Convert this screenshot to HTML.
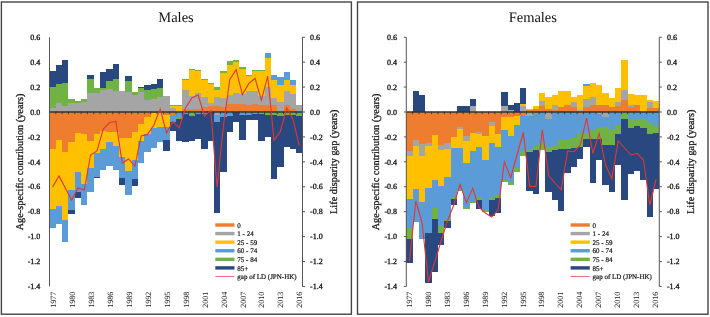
<!DOCTYPE html>
<html><head><meta charset="utf-8"><style>
html,body{margin:0;padding:0;background:#fff;}
body{width:710px;height:317px;overflow:hidden;}
svg{display:block;will-change:transform;} text{text-rendering:geometricPrecision;}
.t{font-family:"Liberation Serif",serif;font-size:8px;fill:#111;stroke:#111;stroke-width:0.3px;}
.yr{font-family:"Liberation Serif",serif;font-size:8px;fill:#1a1a1a;stroke:#1a1a1a;stroke-width:0.04px;}
.lg{font-family:"Liberation Serif",serif;font-size:7px;fill:#111;stroke:#111;stroke-width:0.2px;}
.lab{font-family:"Liberation Serif",serif;font-size:10.3px;fill:#111;stroke:#111;stroke-width:0.25px;}
.title{font-family:"Liberation Serif",serif;font-size:14.5px;fill:#111;}
</style></head><body>
<svg width="710" height="317" viewBox="0 0 710 317">
<rect width="710" height="317" fill="#fff"/>
<rect x="1.4" y="2" width="350" height="312.2" fill="none" stroke="#454545" stroke-width="1.4"/>
<rect x="357.5" y="2" width="350.5" height="312.2" fill="none" stroke="#454545" stroke-width="1.4"/>
<g shape-rendering="crispEdges">
<rect x="49.5" y="107.9" width="6.33" height="3.7" fill="#A5A5A5"/>
<rect x="49.5" y="87" width="6.33" height="20.9" fill="#71B244"/>
<rect x="49.5" y="70.8" width="6.33" height="16.2" fill="#28487F"/>
<rect x="49.5" y="111.6" width="6.33" height="36.9" fill="#EF7D2F"/>
<rect x="49.5" y="148.5" width="6.33" height="60" fill="#FFC000"/>
<rect x="49.5" y="208.5" width="6.33" height="19.3" fill="#5B9BD8"/>
<rect x="55.83" y="103.2" width="6.33" height="8.4" fill="#A5A5A5"/>
<rect x="55.83" y="84" width="6.33" height="19.2" fill="#71B244"/>
<rect x="55.83" y="64.5" width="6.33" height="19.5" fill="#28487F"/>
<rect x="55.83" y="111.6" width="6.33" height="27.9" fill="#EF7D2F"/>
<rect x="55.83" y="139.5" width="6.33" height="66.9" fill="#FFC000"/>
<rect x="55.83" y="206.4" width="6.33" height="17.2" fill="#5B9BD8"/>
<rect x="62.15" y="105.9" width="6.33" height="5.7" fill="#A5A5A5"/>
<rect x="62.15" y="82.7" width="6.33" height="23.2" fill="#71B244"/>
<rect x="62.15" y="59.5" width="6.33" height="23.2" fill="#28487F"/>
<rect x="62.15" y="111.6" width="6.33" height="39.9" fill="#EF7D2F"/>
<rect x="62.15" y="151.5" width="6.33" height="68" fill="#FFC000"/>
<rect x="62.15" y="219.5" width="6.33" height="22.5" fill="#5B9BD8"/>
<rect x="68.47" y="103.2" width="6.33" height="8.4" fill="#A5A5A5"/>
<rect x="68.47" y="98.9" width="6.33" height="4.3" fill="#71B244"/>
<rect x="68.47" y="111.6" width="6.33" height="30.4" fill="#EF7D2F"/>
<rect x="68.47" y="142" width="6.33" height="47.5" fill="#FFC000"/>
<rect x="68.47" y="189.5" width="6.33" height="20.5" fill="#5B9BD8"/>
<rect x="68.47" y="210" width="6.33" height="3.5" fill="#28487F"/>
<rect x="74.8" y="102.5" width="6.33" height="9.1" fill="#A5A5A5"/>
<rect x="74.8" y="100.9" width="6.33" height="1.6" fill="#71B244"/>
<rect x="74.8" y="111.6" width="6.33" height="21.4" fill="#EF7D2F"/>
<rect x="74.8" y="133" width="6.33" height="39" fill="#FFC000"/>
<rect x="74.8" y="172" width="6.33" height="20" fill="#5B9BD8"/>
<rect x="74.8" y="192" width="6.33" height="6" fill="#28487F"/>
<rect x="81.12" y="101.5" width="6.33" height="10.1" fill="#A5A5A5"/>
<rect x="81.12" y="98.9" width="6.33" height="2.6" fill="#71B244"/>
<rect x="81.12" y="111.6" width="6.33" height="22.4" fill="#EF7D2F"/>
<rect x="81.12" y="134" width="6.33" height="49.5" fill="#FFC000"/>
<rect x="81.12" y="183.5" width="6.33" height="21.9" fill="#5B9BD8"/>
<rect x="87.45" y="93.4" width="6.33" height="18.2" fill="#A5A5A5"/>
<rect x="87.45" y="78.9" width="6.33" height="14.5" fill="#71B244"/>
<rect x="87.45" y="74.6" width="6.33" height="4.3" fill="#28487F"/>
<rect x="87.45" y="111.6" width="6.33" height="28.9" fill="#EF7D2F"/>
<rect x="87.45" y="140.5" width="6.33" height="27.1" fill="#FFC000"/>
<rect x="87.45" y="167.6" width="6.33" height="24.7" fill="#5B9BD8"/>
<rect x="93.78" y="93.4" width="6.33" height="18.2" fill="#A5A5A5"/>
<rect x="93.78" y="88.4" width="6.33" height="5" fill="#71B244"/>
<rect x="93.78" y="111.6" width="6.33" height="22.4" fill="#EF7D2F"/>
<rect x="93.78" y="134" width="6.33" height="19.4" fill="#FFC000"/>
<rect x="93.78" y="153.4" width="6.33" height="23.6" fill="#5B9BD8"/>
<rect x="93.78" y="177" width="6.33" height="1" fill="#28487F"/>
<rect x="100.1" y="90.4" width="6.33" height="21.2" fill="#A5A5A5"/>
<rect x="100.1" y="88.4" width="6.33" height="2" fill="#71B244"/>
<rect x="100.1" y="72.2" width="6.33" height="16.2" fill="#28487F"/>
<rect x="100.1" y="111.6" width="6.33" height="18.9" fill="#EF7D2F"/>
<rect x="100.1" y="130.5" width="6.33" height="18.2" fill="#FFC000"/>
<rect x="100.1" y="148.7" width="6.33" height="21.6" fill="#5B9BD8"/>
<rect x="106.43" y="88.8" width="6.33" height="22.8" fill="#A5A5A5"/>
<rect x="106.43" y="81.3" width="6.33" height="7.5" fill="#71B244"/>
<rect x="106.43" y="69.2" width="6.33" height="12.1" fill="#28487F"/>
<rect x="106.43" y="111.6" width="6.33" height="20.6" fill="#EF7D2F"/>
<rect x="106.43" y="132.2" width="6.33" height="9.8" fill="#FFC000"/>
<rect x="106.43" y="142" width="6.33" height="24" fill="#5B9BD8"/>
<rect x="112.75" y="91.4" width="6.33" height="20.2" fill="#A5A5A5"/>
<rect x="112.75" y="79.3" width="6.33" height="12.1" fill="#71B244"/>
<rect x="112.75" y="63.7" width="6.33" height="15.6" fill="#28487F"/>
<rect x="112.75" y="111.6" width="6.33" height="20.6" fill="#EF7D2F"/>
<rect x="112.75" y="132.2" width="6.33" height="14" fill="#FFC000"/>
<rect x="112.75" y="146.2" width="6.33" height="24.1" fill="#5B9BD8"/>
<rect x="119.08" y="91.4" width="6.33" height="20.2" fill="#A5A5A5"/>
<rect x="119.08" y="111.6" width="6.33" height="25.9" fill="#EF7D2F"/>
<rect x="119.08" y="137.5" width="6.33" height="19" fill="#FFC000"/>
<rect x="119.08" y="156.5" width="6.33" height="21.8" fill="#5B9BD8"/>
<rect x="119.08" y="178.3" width="6.33" height="6.2" fill="#28487F"/>
<rect x="125.4" y="92.4" width="6.33" height="19.2" fill="#A5A5A5"/>
<rect x="125.4" y="81.3" width="6.33" height="11.1" fill="#71B244"/>
<rect x="125.4" y="75.8" width="6.33" height="5.5" fill="#28487F"/>
<rect x="125.4" y="111.6" width="6.33" height="25.9" fill="#EF7D2F"/>
<rect x="125.4" y="137.5" width="6.33" height="33" fill="#FFC000"/>
<rect x="125.4" y="170.5" width="6.33" height="24.5" fill="#5B9BD8"/>
<rect x="131.73" y="95.4" width="6.33" height="16.2" fill="#A5A5A5"/>
<rect x="131.73" y="92.4" width="6.33" height="3" fill="#71B244"/>
<rect x="131.73" y="111.6" width="6.33" height="19.9" fill="#EF7D2F"/>
<rect x="131.73" y="131.5" width="6.33" height="28.5" fill="#FFC000"/>
<rect x="131.73" y="160" width="6.33" height="18.5" fill="#5B9BD8"/>
<rect x="131.73" y="178.5" width="6.33" height="7" fill="#28487F"/>
<rect x="138.05" y="92.4" width="6.33" height="19.2" fill="#A5A5A5"/>
<rect x="138.05" y="88.4" width="6.33" height="4" fill="#71B244"/>
<rect x="138.05" y="87" width="6.33" height="1.4" fill="#28487F"/>
<rect x="138.05" y="111.6" width="6.33" height="11.9" fill="#EF7D2F"/>
<rect x="138.05" y="123.5" width="6.33" height="17.2" fill="#FFC000"/>
<rect x="138.05" y="140.7" width="6.33" height="22.1" fill="#5B9BD8"/>
<rect x="144.38" y="99.5" width="6.33" height="12.1" fill="#A5A5A5"/>
<rect x="144.38" y="90.4" width="6.33" height="9.1" fill="#71B244"/>
<rect x="144.38" y="85" width="6.33" height="5.4" fill="#28487F"/>
<rect x="144.38" y="111.6" width="6.33" height="5.4" fill="#EF7D2F"/>
<rect x="144.38" y="117" width="6.33" height="17.4" fill="#FFC000"/>
<rect x="144.38" y="134.4" width="6.33" height="17.3" fill="#5B9BD8"/>
<rect x="150.7" y="98.5" width="6.33" height="13.1" fill="#A5A5A5"/>
<rect x="150.7" y="89.4" width="6.33" height="9.1" fill="#71B244"/>
<rect x="150.7" y="84.3" width="6.33" height="5.1" fill="#28487F"/>
<rect x="150.7" y="111.6" width="6.33" height="0.9" fill="#EF7D2F"/>
<rect x="150.7" y="112.5" width="6.33" height="15.5" fill="#FFC000"/>
<rect x="150.7" y="128" width="6.33" height="20" fill="#5B9BD8"/>
<rect x="157.03" y="97.4" width="6.33" height="14.2" fill="#A5A5A5"/>
<rect x="157.03" y="88" width="6.33" height="9.4" fill="#71B244"/>
<rect x="157.03" y="78.9" width="6.33" height="9.1" fill="#28487F"/>
<rect x="157.03" y="111.6" width="6.33" height="15.4" fill="#FFC000"/>
<rect x="157.03" y="127" width="6.33" height="15.3" fill="#5B9BD8"/>
<rect x="163.35" y="96" width="6.33" height="15.6" fill="#A5A5A5"/>
<rect x="163.35" y="111.6" width="6.33" height="3.1" fill="#EF7D2F"/>
<rect x="163.35" y="114.7" width="6.33" height="12.3" fill="#FFC000"/>
<rect x="163.35" y="127" width="6.33" height="11.5" fill="#5B9BD8"/>
<rect x="163.35" y="138.5" width="6.33" height="1.5" fill="#71B244"/>
<rect x="163.35" y="140" width="6.33" height="10.8" fill="#28487F"/>
<rect x="169.68" y="108" width="6.33" height="3.6" fill="#A5A5A5"/>
<rect x="169.68" y="105.5" width="6.33" height="2.5" fill="#FFC000"/>
<rect x="169.68" y="104.6" width="6.33" height="0.9" fill="#71B244"/>
<rect x="169.68" y="111.6" width="6.33" height="3.1" fill="#EF7D2F"/>
<rect x="169.68" y="114.7" width="6.33" height="7.3" fill="#5B9BD8"/>
<rect x="169.68" y="122" width="6.33" height="8.5" fill="#28487F"/>
<rect x="176" y="105.5" width="6.33" height="6.1" fill="#FFC000"/>
<rect x="176" y="105" width="6.33" height="0.5" fill="#71B244"/>
<rect x="176" y="111.6" width="6.33" height="5.4" fill="#5B9BD8"/>
<rect x="176" y="117" width="6.33" height="1.6" fill="#71B244"/>
<rect x="176" y="118.6" width="6.33" height="22.8" fill="#28487F"/>
<rect x="182.33" y="108.5" width="6.33" height="3.1" fill="#EF7D2F"/>
<rect x="182.33" y="90" width="6.33" height="18.5" fill="#A5A5A5"/>
<rect x="182.33" y="79.7" width="6.33" height="10.3" fill="#FFC000"/>
<rect x="182.33" y="78.9" width="6.33" height="0.8" fill="#71B244"/>
<rect x="182.33" y="111.6" width="6.33" height="2.4" fill="#5B9BD8"/>
<rect x="182.33" y="114" width="6.33" height="28" fill="#28487F"/>
<rect x="188.65" y="108.5" width="6.33" height="3.1" fill="#EF7D2F"/>
<rect x="188.65" y="96.1" width="6.33" height="12.4" fill="#A5A5A5"/>
<rect x="188.65" y="69.8" width="6.33" height="26.3" fill="#FFC000"/>
<rect x="188.65" y="69.2" width="6.33" height="0.6" fill="#71B244"/>
<rect x="188.65" y="111.6" width="6.33" height="4.2" fill="#71B244"/>
<rect x="188.65" y="115.8" width="6.33" height="25.2" fill="#28487F"/>
<rect x="194.97" y="108.5" width="6.33" height="3.1" fill="#EF7D2F"/>
<rect x="194.97" y="92.7" width="6.33" height="15.8" fill="#A5A5A5"/>
<rect x="194.97" y="71.1" width="6.33" height="21.6" fill="#FFC000"/>
<rect x="194.97" y="70.2" width="6.33" height="0.9" fill="#71B244"/>
<rect x="194.97" y="111.6" width="6.33" height="2.4" fill="#5B9BD8"/>
<rect x="194.97" y="114" width="6.33" height="24.5" fill="#28487F"/>
<rect x="201.3" y="106.9" width="6.33" height="4.7" fill="#EF7D2F"/>
<rect x="201.3" y="97.2" width="6.33" height="9.7" fill="#A5A5A5"/>
<rect x="201.3" y="79.7" width="6.33" height="17.5" fill="#FFC000"/>
<rect x="201.3" y="78.9" width="6.33" height="0.8" fill="#71B244"/>
<rect x="201.3" y="111.6" width="6.33" height="2.4" fill="#5B9BD8"/>
<rect x="201.3" y="114" width="6.33" height="34.5" fill="#28487F"/>
<rect x="207.62" y="106.3" width="6.33" height="5.3" fill="#EF7D2F"/>
<rect x="207.62" y="102.5" width="6.33" height="3.8" fill="#A5A5A5"/>
<rect x="207.62" y="83.9" width="6.33" height="18.6" fill="#FFC000"/>
<rect x="207.62" y="82.9" width="6.33" height="1" fill="#71B244"/>
<rect x="207.62" y="111.6" width="6.33" height="29" fill="#28487F"/>
<rect x="213.95" y="105.5" width="6.33" height="6.1" fill="#EF7D2F"/>
<rect x="213.95" y="97.4" width="6.33" height="8.1" fill="#A5A5A5"/>
<rect x="213.95" y="90" width="6.33" height="7.4" fill="#FFC000"/>
<rect x="213.95" y="87" width="6.33" height="3" fill="#71B244"/>
<rect x="213.95" y="111.6" width="6.33" height="3.1" fill="#A5A5A5"/>
<rect x="213.95" y="114.7" width="6.33" height="7" fill="#5B9BD8"/>
<rect x="213.95" y="121.7" width="6.33" height="91.3" fill="#28487F"/>
<rect x="220.28" y="106.7" width="6.33" height="4.9" fill="#EF7D2F"/>
<rect x="220.28" y="97.6" width="6.33" height="9.1" fill="#A5A5A5"/>
<rect x="220.28" y="72.9" width="6.33" height="24.7" fill="#FFC000"/>
<rect x="220.28" y="71.1" width="6.33" height="1.8" fill="#71B244"/>
<rect x="220.28" y="111.6" width="6.33" height="4.9" fill="#5B9BD8"/>
<rect x="220.28" y="116.5" width="6.33" height="55.8" fill="#28487F"/>
<rect x="226.6" y="103.8" width="6.33" height="7.8" fill="#EF7D2F"/>
<rect x="226.6" y="94.6" width="6.33" height="9.2" fill="#A5A5A5"/>
<rect x="226.6" y="64.7" width="6.33" height="29.9" fill="#FFC000"/>
<rect x="226.6" y="60.8" width="6.33" height="3.9" fill="#71B244"/>
<rect x="226.6" y="111.6" width="6.33" height="3.9" fill="#5B9BD8"/>
<rect x="226.6" y="115.5" width="6.33" height="16" fill="#28487F"/>
<rect x="232.93" y="103.8" width="6.33" height="7.8" fill="#EF7D2F"/>
<rect x="232.93" y="93.4" width="6.33" height="10.4" fill="#A5A5A5"/>
<rect x="232.93" y="61.7" width="6.33" height="31.7" fill="#FFC000"/>
<rect x="232.93" y="59.8" width="6.33" height="1.9" fill="#71B244"/>
<rect x="232.93" y="111.6" width="6.33" height="10.4" fill="#28487F"/>
<rect x="239.25" y="103.8" width="6.33" height="7.8" fill="#EF7D2F"/>
<rect x="239.25" y="94" width="6.33" height="9.8" fill="#A5A5A5"/>
<rect x="239.25" y="69" width="6.33" height="25" fill="#FFC000"/>
<rect x="239.25" y="67.2" width="6.33" height="1.8" fill="#71B244"/>
<rect x="239.25" y="111.6" width="6.33" height="3.4" fill="#5B9BD8"/>
<rect x="239.25" y="115" width="6.33" height="25" fill="#28487F"/>
<rect x="245.58" y="105.2" width="6.33" height="6.4" fill="#EF7D2F"/>
<rect x="245.58" y="91.2" width="6.33" height="14" fill="#A5A5A5"/>
<rect x="245.58" y="76.2" width="6.33" height="15" fill="#FFC000"/>
<rect x="245.58" y="75.1" width="6.33" height="1.1" fill="#71B244"/>
<rect x="245.58" y="111.6" width="6.33" height="3.4" fill="#5B9BD8"/>
<rect x="245.58" y="115" width="6.33" height="5.2" fill="#28487F"/>
<rect x="251.9" y="104" width="6.33" height="7.6" fill="#EF7D2F"/>
<rect x="251.9" y="91.2" width="6.33" height="12.8" fill="#A5A5A5"/>
<rect x="251.9" y="70.8" width="6.33" height="20.4" fill="#FFC000"/>
<rect x="251.9" y="69.8" width="6.33" height="1" fill="#71B244"/>
<rect x="251.9" y="111.6" width="6.33" height="2.4" fill="#5B9BD8"/>
<rect x="251.9" y="114" width="6.33" height="6.2" fill="#28487F"/>
<rect x="258.23" y="105.2" width="6.33" height="6.4" fill="#EF7D2F"/>
<rect x="258.23" y="95.5" width="6.33" height="9.7" fill="#A5A5A5"/>
<rect x="258.23" y="70.8" width="6.33" height="24.7" fill="#FFC000"/>
<rect x="258.23" y="70.3" width="6.33" height="0.5" fill="#71B244"/>
<rect x="258.23" y="111.6" width="6.33" height="2.4" fill="#71B244"/>
<rect x="258.23" y="114" width="6.33" height="27.4" fill="#28487F"/>
<rect x="264.55" y="105.2" width="6.33" height="6.4" fill="#EF7D2F"/>
<rect x="264.55" y="86.9" width="6.33" height="18.3" fill="#A5A5A5"/>
<rect x="264.55" y="58" width="6.33" height="28.9" fill="#FFC000"/>
<rect x="264.55" y="52.6" width="6.33" height="5.4" fill="#5B9BD8"/>
<rect x="264.55" y="111.6" width="6.33" height="3.4" fill="#71B244"/>
<rect x="264.55" y="115" width="6.33" height="22" fill="#28487F"/>
<rect x="270.88" y="105.1" width="6.33" height="6.5" fill="#EF7D2F"/>
<rect x="270.88" y="97.7" width="6.33" height="7.4" fill="#A5A5A5"/>
<rect x="270.88" y="79.7" width="6.33" height="18" fill="#FFC000"/>
<rect x="270.88" y="74.8" width="6.33" height="4.9" fill="#5B9BD8"/>
<rect x="270.88" y="111.6" width="6.33" height="3.4" fill="#71B244"/>
<rect x="270.88" y="115" width="6.33" height="64.3" fill="#28487F"/>
<rect x="277.2" y="101.8" width="6.33" height="9.8" fill="#A5A5A5"/>
<rect x="277.2" y="84.6" width="6.33" height="17.2" fill="#FFC000"/>
<rect x="277.2" y="76.9" width="6.33" height="7.7" fill="#5B9BD8"/>
<rect x="277.2" y="111.6" width="6.33" height="4.4" fill="#71B244"/>
<rect x="277.2" y="116" width="6.33" height="50.7" fill="#28487F"/>
<rect x="283.52" y="105.1" width="6.33" height="6.5" fill="#EF7D2F"/>
<rect x="283.52" y="91.1" width="6.33" height="14" fill="#A5A5A5"/>
<rect x="283.52" y="79.7" width="6.33" height="11.4" fill="#FFC000"/>
<rect x="283.52" y="72.3" width="6.33" height="7.4" fill="#5B9BD8"/>
<rect x="283.52" y="111.6" width="6.33" height="3.4" fill="#71B244"/>
<rect x="283.52" y="115" width="6.33" height="32" fill="#28487F"/>
<rect x="289.85" y="109" width="6.33" height="2.6" fill="#EF7D2F"/>
<rect x="289.85" y="94.4" width="6.33" height="14.6" fill="#A5A5A5"/>
<rect x="289.85" y="85.4" width="6.33" height="9" fill="#FFC000"/>
<rect x="289.85" y="80.2" width="6.33" height="5.2" fill="#5B9BD8"/>
<rect x="289.85" y="111.6" width="6.33" height="2.9" fill="#71B244"/>
<rect x="289.85" y="114.5" width="6.33" height="34.6" fill="#28487F"/>
<rect x="296.18" y="105.1" width="6.33" height="6.5" fill="#A5A5A5"/>
<rect x="296.18" y="111.6" width="6.33" height="2.4" fill="#5B9BD8"/>
<rect x="296.18" y="114" width="6.33" height="2" fill="#71B244"/>
<rect x="296.18" y="116" width="6.33" height="36.5" fill="#28487F"/>
</g>
<line x1="49.5" y1="112" x2="302.5" y2="112" stroke="#333" stroke-width="1.3"/>
<line x1="55.83" y1="111.6" x2="55.83" y2="114.2" stroke="#333" stroke-width="0.9"/>
<line x1="62.15" y1="111.6" x2="62.15" y2="114.2" stroke="#333" stroke-width="0.9"/>
<line x1="68.47" y1="111.6" x2="68.47" y2="114.2" stroke="#333" stroke-width="0.9"/>
<line x1="74.8" y1="111.6" x2="74.8" y2="114.2" stroke="#333" stroke-width="0.9"/>
<line x1="81.12" y1="111.6" x2="81.12" y2="114.2" stroke="#333" stroke-width="0.9"/>
<line x1="87.45" y1="111.6" x2="87.45" y2="114.2" stroke="#333" stroke-width="0.9"/>
<line x1="93.78" y1="111.6" x2="93.78" y2="114.2" stroke="#333" stroke-width="0.9"/>
<line x1="100.1" y1="111.6" x2="100.1" y2="114.2" stroke="#333" stroke-width="0.9"/>
<line x1="106.43" y1="111.6" x2="106.43" y2="114.2" stroke="#333" stroke-width="0.9"/>
<line x1="112.75" y1="111.6" x2="112.75" y2="114.2" stroke="#333" stroke-width="0.9"/>
<line x1="119.08" y1="111.6" x2="119.08" y2="114.2" stroke="#333" stroke-width="0.9"/>
<line x1="125.4" y1="111.6" x2="125.4" y2="114.2" stroke="#333" stroke-width="0.9"/>
<line x1="131.73" y1="111.6" x2="131.73" y2="114.2" stroke="#333" stroke-width="0.9"/>
<line x1="138.05" y1="111.6" x2="138.05" y2="114.2" stroke="#333" stroke-width="0.9"/>
<line x1="144.38" y1="111.6" x2="144.38" y2="114.2" stroke="#333" stroke-width="0.9"/>
<line x1="150.7" y1="111.6" x2="150.7" y2="114.2" stroke="#333" stroke-width="0.9"/>
<line x1="157.03" y1="111.6" x2="157.03" y2="114.2" stroke="#333" stroke-width="0.9"/>
<line x1="163.35" y1="111.6" x2="163.35" y2="114.2" stroke="#333" stroke-width="0.9"/>
<line x1="169.68" y1="111.6" x2="169.68" y2="114.2" stroke="#333" stroke-width="0.9"/>
<line x1="176" y1="111.6" x2="176" y2="114.2" stroke="#333" stroke-width="0.9"/>
<line x1="182.33" y1="111.6" x2="182.33" y2="114.2" stroke="#333" stroke-width="0.9"/>
<line x1="188.65" y1="111.6" x2="188.65" y2="114.2" stroke="#333" stroke-width="0.9"/>
<line x1="194.97" y1="111.6" x2="194.97" y2="114.2" stroke="#333" stroke-width="0.9"/>
<line x1="201.3" y1="111.6" x2="201.3" y2="114.2" stroke="#333" stroke-width="0.9"/>
<line x1="207.62" y1="111.6" x2="207.62" y2="114.2" stroke="#333" stroke-width="0.9"/>
<line x1="213.95" y1="111.6" x2="213.95" y2="114.2" stroke="#333" stroke-width="0.9"/>
<line x1="220.28" y1="111.6" x2="220.28" y2="114.2" stroke="#333" stroke-width="0.9"/>
<line x1="226.6" y1="111.6" x2="226.6" y2="114.2" stroke="#333" stroke-width="0.9"/>
<line x1="232.93" y1="111.6" x2="232.93" y2="114.2" stroke="#333" stroke-width="0.9"/>
<line x1="239.25" y1="111.6" x2="239.25" y2="114.2" stroke="#333" stroke-width="0.9"/>
<line x1="245.58" y1="111.6" x2="245.58" y2="114.2" stroke="#333" stroke-width="0.9"/>
<line x1="251.9" y1="111.6" x2="251.9" y2="114.2" stroke="#333" stroke-width="0.9"/>
<line x1="258.23" y1="111.6" x2="258.23" y2="114.2" stroke="#333" stroke-width="0.9"/>
<line x1="264.55" y1="111.6" x2="264.55" y2="114.2" stroke="#333" stroke-width="0.9"/>
<line x1="270.88" y1="111.6" x2="270.88" y2="114.2" stroke="#333" stroke-width="0.9"/>
<line x1="277.2" y1="111.6" x2="277.2" y2="114.2" stroke="#333" stroke-width="0.9"/>
<line x1="283.52" y1="111.6" x2="283.52" y2="114.2" stroke="#333" stroke-width="0.9"/>
<line x1="289.85" y1="111.6" x2="289.85" y2="114.2" stroke="#333" stroke-width="0.9"/>
<line x1="296.18" y1="111.6" x2="296.18" y2="114.2" stroke="#333" stroke-width="0.9"/>
<polyline points="52.66,187 58.99,176 65.31,188 71.64,200 77.96,188 84.29,190 90.61,155 96.94,151 103.26,129 109.59,122.5 115.91,121.5 122.24,163 128.56,159 134.89,166 141.21,136 147.54,134.4 153.86,125 160.19,109 166.51,133 172.84,121.7 179.16,128 185.49,108 191.81,98 198.14,95 204.46,116 210.79,110.6 217.11,187 223.44,125.7 229.76,79.4 236.09,69.6 242.41,94.6 248.74,83.7 255.06,78.3 261.39,100.2 267.71,76.2 274.04,140.3 280.36,131.4 286.69,108 293.01,119.3 299.34,145.8" fill="none" stroke="#E6352F" stroke-width="1.1" stroke-linejoin="miter"/>
<line x1="49.5" y1="37.24" x2="49.5" y2="286.44" stroke="#555" stroke-width="1"/>
<line x1="302.5" y1="37.24" x2="302.5" y2="286.44" stroke="#555" stroke-width="1"/>
<line x1="302.5" y1="37.24" x2="305.1" y2="37.24" stroke="#555" stroke-width="1"/>
<text x="40.3" y="39.94" text-anchor="end" class="t">0.6</text>
<text x="310.1" y="39.94" class="t">0.6</text>
<line x1="302.5" y1="62.16" x2="305.1" y2="62.16" stroke="#555" stroke-width="1"/>
<text x="40.3" y="64.86" text-anchor="end" class="t">0.4</text>
<text x="310.1" y="64.86" class="t">0.4</text>
<line x1="302.5" y1="87.08" x2="305.1" y2="87.08" stroke="#555" stroke-width="1"/>
<text x="40.3" y="89.78" text-anchor="end" class="t">0.2</text>
<text x="310.1" y="89.78" class="t">0.2</text>
<line x1="302.5" y1="112" x2="305.1" y2="112" stroke="#555" stroke-width="1"/>
<text x="40.3" y="114.7" text-anchor="end" class="t">0.0</text>
<text x="310.1" y="114.7" class="t">0.0</text>
<line x1="302.5" y1="136.92" x2="305.1" y2="136.92" stroke="#555" stroke-width="1"/>
<text x="40.3" y="139.62" text-anchor="end" class="t">-0.2</text>
<text x="310.1" y="139.62" class="t">-0.2</text>
<line x1="302.5" y1="161.84" x2="305.1" y2="161.84" stroke="#555" stroke-width="1"/>
<text x="40.3" y="164.54" text-anchor="end" class="t">-0.4</text>
<text x="310.1" y="164.54" class="t">-0.4</text>
<line x1="302.5" y1="186.76" x2="305.1" y2="186.76" stroke="#555" stroke-width="1"/>
<text x="40.3" y="189.46" text-anchor="end" class="t">-0.6</text>
<text x="310.1" y="189.46" class="t">-0.6</text>
<line x1="302.5" y1="211.68" x2="305.1" y2="211.68" stroke="#555" stroke-width="1"/>
<text x="40.3" y="214.38" text-anchor="end" class="t">-0.8</text>
<text x="310.1" y="214.38" class="t">-0.8</text>
<line x1="302.5" y1="236.6" x2="305.1" y2="236.6" stroke="#555" stroke-width="1"/>
<text x="40.3" y="239.3" text-anchor="end" class="t">-1.0</text>
<text x="310.1" y="239.3" class="t">-1.0</text>
<line x1="302.5" y1="261.52" x2="305.1" y2="261.52" stroke="#555" stroke-width="1"/>
<text x="40.3" y="264.22" text-anchor="end" class="t">-1.2</text>
<text x="310.1" y="264.22" class="t">-1.2</text>
<line x1="302.5" y1="286.44" x2="305.1" y2="286.44" stroke="#555" stroke-width="1"/>
<text x="40.3" y="289.14" text-anchor="end" class="t">-1.4</text>
<text x="310.1" y="289.14" class="t">-1.4</text>
<text transform="translate(55.76,307.8) rotate(-90)" class="yr">1977</text>
<text transform="translate(74.74,307.8) rotate(-90)" class="yr">1980</text>
<text transform="translate(93.71,307.8) rotate(-90)" class="yr">1983</text>
<text transform="translate(112.69,307.8) rotate(-90)" class="yr">1986</text>
<text transform="translate(131.66,307.8) rotate(-90)" class="yr">1989</text>
<text transform="translate(150.64,307.8) rotate(-90)" class="yr">1992</text>
<text transform="translate(169.61,307.8) rotate(-90)" class="yr">1995</text>
<text transform="translate(188.59,307.8) rotate(-90)" class="yr">1998</text>
<text transform="translate(207.56,307.8) rotate(-90)" class="yr">2001</text>
<text transform="translate(226.54,307.8) rotate(-90)" class="yr">2004</text>
<text transform="translate(245.51,307.8) rotate(-90)" class="yr">2007</text>
<text transform="translate(264.49,307.8) rotate(-90)" class="yr">2010</text>
<text transform="translate(283.46,307.8) rotate(-90)" class="yr">2013</text>
<text transform="translate(302.44,307.8) rotate(-90)" class="yr">2016</text>
<text x="176" y="22" text-anchor="middle" class="title">Males</text>
<text transform="translate(22.6,162) rotate(-90)" text-anchor="middle" class="lab">Age-specific contribution (years)</text>
<text transform="translate(337,161.75) rotate(-90)" text-anchor="middle" class="lab">Life disparity gap (years)</text>
<rect x="215.3" y="223.3" width="19.2" height="3.4" fill="#EF7D2F"/>
<text x="237.3" y="227.6" class="lg">0</text>
<rect x="215.3" y="231.88" width="19.2" height="3.4" fill="#A5A5A5"/>
<text x="237.3" y="236.18" class="lg">1 - 24</text>
<rect x="215.3" y="240.46" width="19.2" height="3.4" fill="#FFC000"/>
<text x="237.3" y="244.76" class="lg">25 - 59</text>
<rect x="215.3" y="249.04" width="19.2" height="3.4" fill="#5B9BD8"/>
<text x="237.3" y="253.34" class="lg">60 - 74</text>
<rect x="215.3" y="257.62" width="19.2" height="3.4" fill="#71B244"/>
<text x="237.3" y="261.92" class="lg">75 - 84</text>
<rect x="215.3" y="266.2" width="19.2" height="3.4" fill="#28487F"/>
<text x="237.3" y="270.5" class="lg">85+</text>
<line x1="215.3" y1="276.48" x2="234.5" y2="276.48" stroke="#EC5A6A" stroke-width="0.9"/>
<text x="237.3" y="279.08" class="lg">gap of LD (JPN-HK)</text>
<g shape-rendering="crispEdges">
<rect x="406.3" y="111.6" width="6.33" height="38.9" fill="#EF7D2F"/>
<rect x="406.3" y="150.5" width="6.33" height="5.7" fill="#A5A5A5"/>
<rect x="406.3" y="156.2" width="6.33" height="42.6" fill="#FFC000"/>
<rect x="406.3" y="198.8" width="6.33" height="29.6" fill="#5B9BD8"/>
<rect x="406.3" y="228.4" width="6.33" height="10.4" fill="#71B244"/>
<rect x="406.3" y="238.8" width="6.33" height="23.8" fill="#28487F"/>
<rect x="412.62" y="91.4" width="6.33" height="20.2" fill="#28487F"/>
<rect x="412.62" y="111.6" width="6.33" height="28.4" fill="#EF7D2F"/>
<rect x="412.62" y="140" width="6.33" height="5.8" fill="#A5A5A5"/>
<rect x="412.62" y="145.8" width="6.33" height="43.6" fill="#FFC000"/>
<rect x="412.62" y="189.4" width="6.33" height="32.3" fill="#5B9BD8"/>
<rect x="418.95" y="95.3" width="6.33" height="16.3" fill="#28487F"/>
<rect x="418.95" y="111.6" width="6.33" height="31.9" fill="#EF7D2F"/>
<rect x="418.95" y="143.5" width="6.33" height="12.7" fill="#A5A5A5"/>
<rect x="418.95" y="156.2" width="6.33" height="45.5" fill="#FFC000"/>
<rect x="418.95" y="201.7" width="6.33" height="37.7" fill="#5B9BD8"/>
<rect x="425.28" y="111.6" width="6.33" height="31.4" fill="#EF7D2F"/>
<rect x="425.28" y="143" width="6.33" height="2.8" fill="#A5A5A5"/>
<rect x="425.28" y="145.8" width="6.33" height="42.6" fill="#FFC000"/>
<rect x="425.28" y="188.4" width="6.33" height="44.3" fill="#5B9BD8"/>
<rect x="425.28" y="232.7" width="6.33" height="50.7" fill="#28487F"/>
<rect x="431.6" y="111.6" width="6.33" height="23.8" fill="#EF7D2F"/>
<rect x="431.6" y="135.4" width="6.33" height="44.6" fill="#FFC000"/>
<rect x="431.6" y="180" width="6.33" height="28.3" fill="#5B9BD8"/>
<rect x="431.6" y="208.3" width="6.33" height="10.4" fill="#71B244"/>
<rect x="431.6" y="218.7" width="6.33" height="53.3" fill="#28487F"/>
<rect x="437.93" y="111.6" width="6.33" height="33.2" fill="#EF7D2F"/>
<rect x="437.93" y="144.8" width="6.33" height="4.8" fill="#A5A5A5"/>
<rect x="437.93" y="149.6" width="6.33" height="36" fill="#FFC000"/>
<rect x="437.93" y="185.6" width="6.33" height="40.8" fill="#5B9BD8"/>
<rect x="437.93" y="226.4" width="6.33" height="6.3" fill="#71B244"/>
<rect x="437.93" y="232.7" width="6.33" height="12.7" fill="#28487F"/>
<rect x="444.25" y="111.6" width="6.33" height="31.2" fill="#EF7D2F"/>
<rect x="444.25" y="142.8" width="6.33" height="5.7" fill="#A5A5A5"/>
<rect x="444.25" y="148.5" width="6.33" height="28.5" fill="#FFC000"/>
<rect x="444.25" y="177" width="6.33" height="41.7" fill="#5B9BD8"/>
<rect x="444.25" y="218.7" width="6.33" height="2.3" fill="#71B244"/>
<rect x="444.25" y="221" width="6.33" height="6.5" fill="#28487F"/>
<rect x="450.57" y="111.6" width="6.33" height="25.4" fill="#EF7D2F"/>
<rect x="450.57" y="137" width="6.33" height="10.5" fill="#FFC000"/>
<rect x="450.57" y="147.5" width="6.33" height="49.5" fill="#5B9BD8"/>
<rect x="450.57" y="197" width="6.33" height="1.8" fill="#71B244"/>
<rect x="450.57" y="198.8" width="6.33" height="5.7" fill="#28487F"/>
<rect x="456.9" y="105.6" width="6.33" height="6" fill="#28487F"/>
<rect x="456.9" y="111.6" width="6.33" height="15.6" fill="#EF7D2F"/>
<rect x="456.9" y="127.2" width="6.33" height="1.9" fill="#A5A5A5"/>
<rect x="456.9" y="129.1" width="6.33" height="18.4" fill="#FFC000"/>
<rect x="456.9" y="147.5" width="6.33" height="42.8" fill="#5B9BD8"/>
<rect x="456.9" y="190.3" width="6.33" height="1" fill="#71B244"/>
<rect x="463.23" y="105.6" width="6.33" height="6" fill="#28487F"/>
<rect x="463.23" y="111.6" width="6.33" height="24.5" fill="#EF7D2F"/>
<rect x="463.23" y="136.1" width="6.33" height="4.4" fill="#A5A5A5"/>
<rect x="463.23" y="140.5" width="6.33" height="22.2" fill="#FFC000"/>
<rect x="463.23" y="162.7" width="6.33" height="44.6" fill="#5B9BD8"/>
<rect x="463.23" y="207.3" width="6.33" height="1.6" fill="#71B244"/>
<rect x="469.55" y="106.3" width="6.33" height="5.3" fill="#A5A5A5"/>
<rect x="469.55" y="98.5" width="6.33" height="7.8" fill="#28487F"/>
<rect x="469.55" y="111.6" width="6.33" height="20.9" fill="#EF7D2F"/>
<rect x="469.55" y="132.5" width="6.33" height="18" fill="#FFC000"/>
<rect x="469.55" y="150.5" width="6.33" height="51.5" fill="#5B9BD8"/>
<rect x="469.55" y="202" width="6.33" height="1.2" fill="#71B244"/>
<rect x="475.88" y="111.6" width="6.33" height="20.5" fill="#EF7D2F"/>
<rect x="475.88" y="132.1" width="6.33" height="2.3" fill="#A5A5A5"/>
<rect x="475.88" y="134.4" width="6.33" height="12.3" fill="#FFC000"/>
<rect x="475.88" y="146.7" width="6.33" height="49.8" fill="#5B9BD8"/>
<rect x="475.88" y="196.5" width="6.33" height="3.3" fill="#71B244"/>
<rect x="475.88" y="199.8" width="6.33" height="8.8" fill="#28487F"/>
<rect x="482.2" y="111.6" width="6.33" height="24.7" fill="#EF7D2F"/>
<rect x="482.2" y="136.3" width="6.33" height="23.7" fill="#FFC000"/>
<rect x="482.2" y="160" width="6.33" height="49.7" fill="#5B9BD8"/>
<rect x="482.2" y="209.7" width="6.33" height="2.3" fill="#71B244"/>
<rect x="488.53" y="111.6" width="6.33" height="10.5" fill="#EF7D2F"/>
<rect x="488.53" y="122.1" width="6.33" height="3.8" fill="#A5A5A5"/>
<rect x="488.53" y="125.9" width="6.33" height="17.1" fill="#FFC000"/>
<rect x="488.53" y="143" width="6.33" height="54.6" fill="#5B9BD8"/>
<rect x="488.53" y="197.6" width="6.33" height="2.2" fill="#71B244"/>
<rect x="488.53" y="199.8" width="6.33" height="16.6" fill="#28487F"/>
<rect x="494.85" y="111.6" width="6.33" height="21.9" fill="#EF7D2F"/>
<rect x="494.85" y="133.5" width="6.33" height="13.2" fill="#FFC000"/>
<rect x="494.85" y="146.7" width="6.33" height="48.7" fill="#5B9BD8"/>
<rect x="494.85" y="195.4" width="6.33" height="2.6" fill="#71B244"/>
<rect x="494.85" y="198" width="6.33" height="15" fill="#28487F"/>
<rect x="501.18" y="106.3" width="6.33" height="5.3" fill="#A5A5A5"/>
<rect x="501.18" y="92.3" width="6.33" height="14" fill="#28487F"/>
<rect x="501.18" y="111.6" width="6.33" height="5.8" fill="#EF7D2F"/>
<rect x="501.18" y="117.4" width="6.33" height="12.3" fill="#FFC000"/>
<rect x="501.18" y="129.7" width="6.33" height="50.3" fill="#5B9BD8"/>
<rect x="501.18" y="180" width="6.33" height="1.7" fill="#71B244"/>
<rect x="507.5" y="109.5" width="6.33" height="2.1" fill="#A5A5A5"/>
<rect x="507.5" y="105" width="6.33" height="4.5" fill="#28487F"/>
<rect x="507.5" y="111.6" width="6.33" height="5.8" fill="#EF7D2F"/>
<rect x="507.5" y="117.4" width="6.33" height="18.9" fill="#FFC000"/>
<rect x="507.5" y="136.3" width="6.33" height="45.7" fill="#5B9BD8"/>
<rect x="507.5" y="182" width="6.33" height="3.4" fill="#71B244"/>
<rect x="513.83" y="103" width="6.33" height="8.6" fill="#28487F"/>
<rect x="513.83" y="111.6" width="6.33" height="4.8" fill="#EF7D2F"/>
<rect x="513.83" y="116.4" width="6.33" height="8.6" fill="#FFC000"/>
<rect x="513.83" y="125" width="6.33" height="42.7" fill="#5B9BD8"/>
<rect x="513.83" y="167.7" width="6.33" height="4.3" fill="#71B244"/>
<rect x="520.15" y="105.6" width="6.33" height="6" fill="#A5A5A5"/>
<rect x="520.15" y="104" width="6.33" height="1.6" fill="#FFC000"/>
<rect x="520.15" y="87.7" width="6.33" height="16.3" fill="#28487F"/>
<rect x="520.15" y="111.6" width="6.33" height="3.9" fill="#EF7D2F"/>
<rect x="520.15" y="115.5" width="6.33" height="35" fill="#5B9BD8"/>
<rect x="520.15" y="150.5" width="6.33" height="5" fill="#71B244"/>
<rect x="526.48" y="110" width="6.33" height="1.6" fill="#EF7D2F"/>
<rect x="526.48" y="108.6" width="6.33" height="1.4" fill="#FFC000"/>
<rect x="526.48" y="111.6" width="6.33" height="3.9" fill="#A5A5A5"/>
<rect x="526.48" y="115.5" width="6.33" height="34.1" fill="#5B9BD8"/>
<rect x="526.48" y="149.6" width="6.33" height="2.4" fill="#71B244"/>
<rect x="526.48" y="152" width="6.33" height="38.9" fill="#28487F"/>
<rect x="532.8" y="109" width="6.33" height="2.6" fill="#EF7D2F"/>
<rect x="532.8" y="106.3" width="6.33" height="2.7" fill="#FFC000"/>
<rect x="532.8" y="111.6" width="6.33" height="2.4" fill="#EF7D2F"/>
<rect x="532.8" y="114" width="6.33" height="31.5" fill="#5B9BD8"/>
<rect x="532.8" y="145.5" width="6.33" height="4.7" fill="#71B244"/>
<rect x="532.8" y="150.2" width="6.33" height="44" fill="#28487F"/>
<rect x="539.12" y="106.3" width="6.33" height="5.3" fill="#EF7D2F"/>
<rect x="539.12" y="101" width="6.33" height="5.3" fill="#A5A5A5"/>
<rect x="539.12" y="93" width="6.33" height="8" fill="#FFC000"/>
<rect x="539.12" y="111.6" width="6.33" height="31.4" fill="#5B9BD8"/>
<rect x="539.12" y="143" width="6.33" height="6.6" fill="#71B244"/>
<rect x="545.45" y="108.6" width="6.33" height="3" fill="#EF7D2F"/>
<rect x="545.45" y="97.1" width="6.33" height="11.5" fill="#FFC000"/>
<rect x="545.45" y="111.6" width="6.33" height="7.7" fill="#A5A5A5"/>
<rect x="545.45" y="119.3" width="6.33" height="27.6" fill="#5B9BD8"/>
<rect x="545.45" y="146.9" width="6.33" height="5.5" fill="#71B244"/>
<rect x="545.45" y="152.4" width="6.33" height="39.6" fill="#28487F"/>
<rect x="551.77" y="109.5" width="6.33" height="2.1" fill="#EF7D2F"/>
<rect x="551.77" y="105" width="6.33" height="4.5" fill="#A5A5A5"/>
<rect x="551.77" y="95" width="6.33" height="10" fill="#FFC000"/>
<rect x="551.77" y="111.6" width="6.33" height="33.1" fill="#5B9BD8"/>
<rect x="551.77" y="144.7" width="6.33" height="5.3" fill="#71B244"/>
<rect x="551.77" y="150" width="6.33" height="49.8" fill="#28487F"/>
<rect x="558.1" y="106.8" width="6.33" height="4.8" fill="#EF7D2F"/>
<rect x="558.1" y="91.4" width="6.33" height="15.4" fill="#FFC000"/>
<rect x="558.1" y="111.6" width="6.33" height="28.6" fill="#5B9BD8"/>
<rect x="558.1" y="140.2" width="6.33" height="8.8" fill="#71B244"/>
<rect x="558.1" y="149" width="6.33" height="62.3" fill="#28487F"/>
<rect x="564.42" y="105" width="6.33" height="6.6" fill="#EF7D2F"/>
<rect x="564.42" y="91.4" width="6.33" height="13.6" fill="#FFC000"/>
<rect x="564.42" y="111.6" width="6.33" height="27.5" fill="#5B9BD8"/>
<rect x="564.42" y="139.1" width="6.33" height="9.9" fill="#71B244"/>
<rect x="564.42" y="149" width="6.33" height="24.3" fill="#28487F"/>
<rect x="570.75" y="106.8" width="6.33" height="4.8" fill="#EF7D2F"/>
<rect x="570.75" y="102.4" width="6.33" height="4.4" fill="#A5A5A5"/>
<rect x="570.75" y="97.1" width="6.33" height="5.3" fill="#FFC000"/>
<rect x="570.75" y="111.6" width="6.33" height="26.4" fill="#5B9BD8"/>
<rect x="570.75" y="138" width="6.33" height="10" fill="#71B244"/>
<rect x="570.75" y="148" width="6.33" height="18.6" fill="#28487F"/>
<rect x="577.08" y="109.5" width="6.33" height="2.1" fill="#A5A5A5"/>
<rect x="577.08" y="95.3" width="6.33" height="14.2" fill="#FFC000"/>
<rect x="577.08" y="111.6" width="6.33" height="2.4" fill="#EF7D2F"/>
<rect x="577.08" y="114" width="6.33" height="20" fill="#5B9BD8"/>
<rect x="577.08" y="134" width="6.33" height="12.9" fill="#71B244"/>
<rect x="577.08" y="146.9" width="6.33" height="12.1" fill="#28487F"/>
<rect x="583.4" y="106.8" width="6.33" height="4.8" fill="#EF7D2F"/>
<rect x="583.4" y="98.9" width="6.33" height="7.9" fill="#A5A5A5"/>
<rect x="583.4" y="85.6" width="6.33" height="13.3" fill="#FFC000"/>
<rect x="583.4" y="84.4" width="6.33" height="1.2" fill="#5B9BD8"/>
<rect x="583.4" y="111.6" width="6.33" height="21.4" fill="#5B9BD8"/>
<rect x="583.4" y="133" width="6.33" height="6" fill="#71B244"/>
<rect x="583.4" y="139" width="6.33" height="7.9" fill="#28487F"/>
<rect x="589.73" y="104.6" width="6.33" height="7" fill="#EF7D2F"/>
<rect x="589.73" y="96.9" width="6.33" height="7.7" fill="#A5A5A5"/>
<rect x="589.73" y="83.3" width="6.33" height="13.6" fill="#FFC000"/>
<rect x="589.73" y="111.6" width="6.33" height="18.7" fill="#5B9BD8"/>
<rect x="589.73" y="130.3" width="6.33" height="8.5" fill="#71B244"/>
<rect x="589.73" y="138.8" width="6.33" height="44.3" fill="#28487F"/>
<rect x="596.05" y="105.2" width="6.33" height="6.4" fill="#EF7D2F"/>
<rect x="596.05" y="85" width="6.33" height="20.2" fill="#FFC000"/>
<rect x="596.05" y="111.6" width="6.33" height="1.9" fill="#A5A5A5"/>
<rect x="596.05" y="113.5" width="6.33" height="14" fill="#5B9BD8"/>
<rect x="596.05" y="127.5" width="6.33" height="11.3" fill="#71B244"/>
<rect x="596.05" y="138.8" width="6.33" height="21.2" fill="#28487F"/>
<rect x="602.38" y="104.6" width="6.33" height="7" fill="#EF7D2F"/>
<rect x="602.38" y="93.1" width="6.33" height="11.5" fill="#FFC000"/>
<rect x="602.38" y="111.6" width="6.33" height="5.4" fill="#A5A5A5"/>
<rect x="602.38" y="117" width="6.33" height="10" fill="#5B9BD8"/>
<rect x="602.38" y="127" width="6.33" height="17.7" fill="#71B244"/>
<rect x="602.38" y="144.7" width="6.33" height="40.7" fill="#28487F"/>
<rect x="608.7" y="107.3" width="6.33" height="4.3" fill="#EF7D2F"/>
<rect x="608.7" y="98.3" width="6.33" height="9" fill="#FFC000"/>
<rect x="608.7" y="111.6" width="6.33" height="17.6" fill="#5B9BD8"/>
<rect x="608.7" y="129.2" width="6.33" height="15.5" fill="#71B244"/>
<rect x="608.7" y="144.7" width="6.33" height="47.3" fill="#28487F"/>
<rect x="615.02" y="106" width="6.33" height="5.6" fill="#EF7D2F"/>
<rect x="615.02" y="102" width="6.33" height="4" fill="#A5A5A5"/>
<rect x="615.02" y="88.1" width="6.33" height="13.9" fill="#FFC000"/>
<rect x="615.02" y="111.6" width="6.33" height="13.2" fill="#5B9BD8"/>
<rect x="615.02" y="124.8" width="6.33" height="8.8" fill="#71B244"/>
<rect x="615.02" y="133.6" width="6.33" height="31.4" fill="#28487F"/>
<rect x="621.35" y="100" width="6.33" height="11.6" fill="#EF7D2F"/>
<rect x="621.35" y="90" width="6.33" height="10" fill="#A5A5A5"/>
<rect x="621.35" y="60.4" width="6.33" height="29.6" fill="#FFC000"/>
<rect x="621.35" y="111.6" width="6.33" height="7.6" fill="#71B244"/>
<rect x="621.35" y="119.2" width="6.33" height="80.5" fill="#28487F"/>
<rect x="627.67" y="106.7" width="6.33" height="4.9" fill="#EF7D2F"/>
<rect x="627.67" y="104.6" width="6.33" height="2.1" fill="#A5A5A5"/>
<rect x="627.67" y="94.4" width="6.33" height="10.2" fill="#FFC000"/>
<rect x="627.67" y="111.6" width="6.33" height="7.6" fill="#5B9BD8"/>
<rect x="627.67" y="119.2" width="6.33" height="8.8" fill="#71B244"/>
<rect x="627.67" y="128" width="6.33" height="46.3" fill="#28487F"/>
<rect x="634" y="104.6" width="6.33" height="7" fill="#EF7D2F"/>
<rect x="634" y="95.4" width="6.33" height="9.2" fill="#FFC000"/>
<rect x="634" y="111.6" width="6.33" height="7.6" fill="#5B9BD8"/>
<rect x="634" y="119.2" width="6.33" height="6.7" fill="#71B244"/>
<rect x="634" y="125.9" width="6.33" height="45.1" fill="#28487F"/>
<rect x="640.33" y="95.4" width="6.33" height="16.2" fill="#FFC000"/>
<rect x="640.33" y="111.6" width="6.33" height="7.6" fill="#5B9BD8"/>
<rect x="640.33" y="119.2" width="6.33" height="8.8" fill="#71B244"/>
<rect x="640.33" y="128" width="6.33" height="51.9" fill="#28487F"/>
<rect x="646.65" y="108.3" width="6.33" height="3.3" fill="#EF7D2F"/>
<rect x="646.65" y="101.7" width="6.33" height="6.6" fill="#A5A5A5"/>
<rect x="646.65" y="100" width="6.33" height="1.7" fill="#FFC000"/>
<rect x="646.65" y="111.6" width="6.33" height="10.9" fill="#5B9BD8"/>
<rect x="646.65" y="122.5" width="6.33" height="11.1" fill="#71B244"/>
<rect x="646.65" y="133.6" width="6.33" height="83.8" fill="#28487F"/>
<rect x="652.98" y="108.3" width="6.33" height="3.3" fill="#EF7D2F"/>
<rect x="652.98" y="101" width="6.33" height="7.3" fill="#FFC000"/>
<rect x="652.98" y="111.6" width="6.33" height="14.3" fill="#5B9BD8"/>
<rect x="652.98" y="125.9" width="6.33" height="6.6" fill="#71B244"/>
<rect x="652.98" y="132.5" width="6.33" height="56.2" fill="#28487F"/>
</g>
<line x1="406.3" y1="112" x2="659.3" y2="112" stroke="#333" stroke-width="1.3"/>
<line x1="412.62" y1="111.6" x2="412.62" y2="114.2" stroke="#333" stroke-width="0.9"/>
<line x1="418.95" y1="111.6" x2="418.95" y2="114.2" stroke="#333" stroke-width="0.9"/>
<line x1="425.28" y1="111.6" x2="425.28" y2="114.2" stroke="#333" stroke-width="0.9"/>
<line x1="431.6" y1="111.6" x2="431.6" y2="114.2" stroke="#333" stroke-width="0.9"/>
<line x1="437.93" y1="111.6" x2="437.93" y2="114.2" stroke="#333" stroke-width="0.9"/>
<line x1="444.25" y1="111.6" x2="444.25" y2="114.2" stroke="#333" stroke-width="0.9"/>
<line x1="450.57" y1="111.6" x2="450.57" y2="114.2" stroke="#333" stroke-width="0.9"/>
<line x1="456.9" y1="111.6" x2="456.9" y2="114.2" stroke="#333" stroke-width="0.9"/>
<line x1="463.23" y1="111.6" x2="463.23" y2="114.2" stroke="#333" stroke-width="0.9"/>
<line x1="469.55" y1="111.6" x2="469.55" y2="114.2" stroke="#333" stroke-width="0.9"/>
<line x1="475.88" y1="111.6" x2="475.88" y2="114.2" stroke="#333" stroke-width="0.9"/>
<line x1="482.2" y1="111.6" x2="482.2" y2="114.2" stroke="#333" stroke-width="0.9"/>
<line x1="488.53" y1="111.6" x2="488.53" y2="114.2" stroke="#333" stroke-width="0.9"/>
<line x1="494.85" y1="111.6" x2="494.85" y2="114.2" stroke="#333" stroke-width="0.9"/>
<line x1="501.18" y1="111.6" x2="501.18" y2="114.2" stroke="#333" stroke-width="0.9"/>
<line x1="507.5" y1="111.6" x2="507.5" y2="114.2" stroke="#333" stroke-width="0.9"/>
<line x1="513.83" y1="111.6" x2="513.83" y2="114.2" stroke="#333" stroke-width="0.9"/>
<line x1="520.15" y1="111.6" x2="520.15" y2="114.2" stroke="#333" stroke-width="0.9"/>
<line x1="526.48" y1="111.6" x2="526.48" y2="114.2" stroke="#333" stroke-width="0.9"/>
<line x1="532.8" y1="111.6" x2="532.8" y2="114.2" stroke="#333" stroke-width="0.9"/>
<line x1="539.12" y1="111.6" x2="539.12" y2="114.2" stroke="#333" stroke-width="0.9"/>
<line x1="545.45" y1="111.6" x2="545.45" y2="114.2" stroke="#333" stroke-width="0.9"/>
<line x1="551.77" y1="111.6" x2="551.77" y2="114.2" stroke="#333" stroke-width="0.9"/>
<line x1="558.1" y1="111.6" x2="558.1" y2="114.2" stroke="#333" stroke-width="0.9"/>
<line x1="564.42" y1="111.6" x2="564.42" y2="114.2" stroke="#333" stroke-width="0.9"/>
<line x1="570.75" y1="111.6" x2="570.75" y2="114.2" stroke="#333" stroke-width="0.9"/>
<line x1="577.08" y1="111.6" x2="577.08" y2="114.2" stroke="#333" stroke-width="0.9"/>
<line x1="583.4" y1="111.6" x2="583.4" y2="114.2" stroke="#333" stroke-width="0.9"/>
<line x1="589.73" y1="111.6" x2="589.73" y2="114.2" stroke="#333" stroke-width="0.9"/>
<line x1="596.05" y1="111.6" x2="596.05" y2="114.2" stroke="#333" stroke-width="0.9"/>
<line x1="602.38" y1="111.6" x2="602.38" y2="114.2" stroke="#333" stroke-width="0.9"/>
<line x1="608.7" y1="111.6" x2="608.7" y2="114.2" stroke="#333" stroke-width="0.9"/>
<line x1="615.02" y1="111.6" x2="615.02" y2="114.2" stroke="#333" stroke-width="0.9"/>
<line x1="621.35" y1="111.6" x2="621.35" y2="114.2" stroke="#333" stroke-width="0.9"/>
<line x1="627.67" y1="111.6" x2="627.67" y2="114.2" stroke="#333" stroke-width="0.9"/>
<line x1="634" y1="111.6" x2="634" y2="114.2" stroke="#333" stroke-width="0.9"/>
<line x1="640.33" y1="111.6" x2="640.33" y2="114.2" stroke="#333" stroke-width="0.9"/>
<line x1="646.65" y1="111.6" x2="646.65" y2="114.2" stroke="#333" stroke-width="0.9"/>
<line x1="652.98" y1="111.6" x2="652.98" y2="114.2" stroke="#333" stroke-width="0.9"/>
<polyline points="409.46,261 415.79,201 422.11,223 428.44,282 434.76,262 441.09,241 447.41,221 453.74,205 460.06,184.6 466.39,202.6 472.71,188.4 479.04,207.5 485.36,213 491.69,217 498.01,210 504.34,162 510.66,177.6 516.99,155 523.31,132.5 529.64,186.5 535.96,186.5 542.29,129.7 548.61,175.5 554.94,183 561.26,189.8 567.59,151 573.91,151.7 580.24,145 586.56,118.2 592.89,153.5 599.21,133.6 605.54,165 611.86,178.7 618.19,141 624.51,148 630.84,155 637.16,153.4 643.49,160 649.81,205 656.14,179" fill="none" stroke="#E6352F" stroke-width="1.1" stroke-linejoin="miter"/>
<line x1="406.3" y1="37.24" x2="406.3" y2="286.44" stroke="#555" stroke-width="1"/>
<line x1="659.3" y1="37.24" x2="659.3" y2="286.44" stroke="#555" stroke-width="1"/>
<line x1="659.3" y1="37.24" x2="661.9" y2="37.24" stroke="#555" stroke-width="1"/>
<line x1="403.9" y1="37.24" x2="406.3" y2="37.24" stroke="#555" stroke-width="1"/>
<text x="397.1" y="39.94" text-anchor="end" class="t">0.6</text>
<text x="666.9" y="39.94" class="t">0.6</text>
<line x1="659.3" y1="62.16" x2="661.9" y2="62.16" stroke="#555" stroke-width="1"/>
<line x1="403.9" y1="62.16" x2="406.3" y2="62.16" stroke="#555" stroke-width="1"/>
<text x="397.1" y="64.86" text-anchor="end" class="t">0.4</text>
<text x="666.9" y="64.86" class="t">0.4</text>
<line x1="659.3" y1="87.08" x2="661.9" y2="87.08" stroke="#555" stroke-width="1"/>
<line x1="403.9" y1="87.08" x2="406.3" y2="87.08" stroke="#555" stroke-width="1"/>
<text x="397.1" y="89.78" text-anchor="end" class="t">0.2</text>
<text x="666.9" y="89.78" class="t">0.2</text>
<line x1="659.3" y1="112" x2="661.9" y2="112" stroke="#555" stroke-width="1"/>
<line x1="403.9" y1="112" x2="406.3" y2="112" stroke="#555" stroke-width="1"/>
<text x="397.1" y="114.7" text-anchor="end" class="t">0.0</text>
<text x="666.9" y="114.7" class="t">0.0</text>
<line x1="659.3" y1="136.92" x2="661.9" y2="136.92" stroke="#555" stroke-width="1"/>
<line x1="403.9" y1="136.92" x2="406.3" y2="136.92" stroke="#555" stroke-width="1"/>
<text x="397.1" y="139.62" text-anchor="end" class="t">-0.2</text>
<text x="666.9" y="139.62" class="t">-0.2</text>
<line x1="659.3" y1="161.84" x2="661.9" y2="161.84" stroke="#555" stroke-width="1"/>
<line x1="403.9" y1="161.84" x2="406.3" y2="161.84" stroke="#555" stroke-width="1"/>
<text x="397.1" y="164.54" text-anchor="end" class="t">-0.4</text>
<text x="666.9" y="164.54" class="t">-0.4</text>
<line x1="659.3" y1="186.76" x2="661.9" y2="186.76" stroke="#555" stroke-width="1"/>
<line x1="403.9" y1="186.76" x2="406.3" y2="186.76" stroke="#555" stroke-width="1"/>
<text x="397.1" y="189.46" text-anchor="end" class="t">-0.6</text>
<text x="666.9" y="189.46" class="t">-0.6</text>
<line x1="659.3" y1="211.68" x2="661.9" y2="211.68" stroke="#555" stroke-width="1"/>
<line x1="403.9" y1="211.68" x2="406.3" y2="211.68" stroke="#555" stroke-width="1"/>
<text x="397.1" y="214.38" text-anchor="end" class="t">-0.8</text>
<text x="666.9" y="214.38" class="t">-0.8</text>
<line x1="659.3" y1="236.6" x2="661.9" y2="236.6" stroke="#555" stroke-width="1"/>
<line x1="403.9" y1="236.6" x2="406.3" y2="236.6" stroke="#555" stroke-width="1"/>
<text x="397.1" y="239.3" text-anchor="end" class="t">-1.0</text>
<text x="666.9" y="239.3" class="t">-1.0</text>
<line x1="659.3" y1="261.52" x2="661.9" y2="261.52" stroke="#555" stroke-width="1"/>
<line x1="403.9" y1="261.52" x2="406.3" y2="261.52" stroke="#555" stroke-width="1"/>
<text x="397.1" y="264.22" text-anchor="end" class="t">-1.2</text>
<text x="666.9" y="264.22" class="t">-1.2</text>
<line x1="659.3" y1="286.44" x2="661.9" y2="286.44" stroke="#555" stroke-width="1"/>
<line x1="403.9" y1="286.44" x2="406.3" y2="286.44" stroke="#555" stroke-width="1"/>
<text x="397.1" y="289.14" text-anchor="end" class="t">-1.4</text>
<text x="666.9" y="289.14" class="t">-1.4</text>
<text transform="translate(411.66,307.8) rotate(-90)" class="yr">1977</text>
<text transform="translate(430.64,307.8) rotate(-90)" class="yr">1980</text>
<text transform="translate(449.61,307.8) rotate(-90)" class="yr">1983</text>
<text transform="translate(468.59,307.8) rotate(-90)" class="yr">1986</text>
<text transform="translate(487.56,307.8) rotate(-90)" class="yr">1989</text>
<text transform="translate(506.54,307.8) rotate(-90)" class="yr">1992</text>
<text transform="translate(525.51,307.8) rotate(-90)" class="yr">1995</text>
<text transform="translate(544.49,307.8) rotate(-90)" class="yr">1998</text>
<text transform="translate(563.46,307.8) rotate(-90)" class="yr">2001</text>
<text transform="translate(582.44,307.8) rotate(-90)" class="yr">2004</text>
<text transform="translate(601.41,307.8) rotate(-90)" class="yr">2007</text>
<text transform="translate(620.39,307.8) rotate(-90)" class="yr">2010</text>
<text transform="translate(639.36,307.8) rotate(-90)" class="yr">2013</text>
<text transform="translate(658.34,307.8) rotate(-90)" class="yr">2016</text>
<text x="532.8" y="22" text-anchor="middle" class="title">Females</text>
<text transform="translate(379.4,162) rotate(-90)" text-anchor="middle" class="lab">Age-specific contribution (years)</text>
<text transform="translate(693.8,161.75) rotate(-90)" text-anchor="middle" class="lab">Life disparity gap (years)</text>
<rect x="570.6" y="223.3" width="19.2" height="3.4" fill="#EF7D2F"/>
<text x="592.6" y="227.6" class="lg">0</text>
<rect x="570.6" y="231.88" width="19.2" height="3.4" fill="#A5A5A5"/>
<text x="592.6" y="236.18" class="lg">1 - 24</text>
<rect x="570.6" y="240.46" width="19.2" height="3.4" fill="#FFC000"/>
<text x="592.6" y="244.76" class="lg">25 - 59</text>
<rect x="570.6" y="249.04" width="19.2" height="3.4" fill="#5B9BD8"/>
<text x="592.6" y="253.34" class="lg">60 - 74</text>
<rect x="570.6" y="257.62" width="19.2" height="3.4" fill="#71B244"/>
<text x="592.6" y="261.92" class="lg">75 - 84</text>
<rect x="570.6" y="266.2" width="19.2" height="3.4" fill="#28487F"/>
<text x="592.6" y="270.5" class="lg">85+</text>
<line x1="570.6" y1="276.48" x2="589.8" y2="276.48" stroke="#EC5A6A" stroke-width="0.9"/>
<text x="592.6" y="279.08" class="lg">gap of LD (JPN-HK)</text>
</svg>
</body></html>
